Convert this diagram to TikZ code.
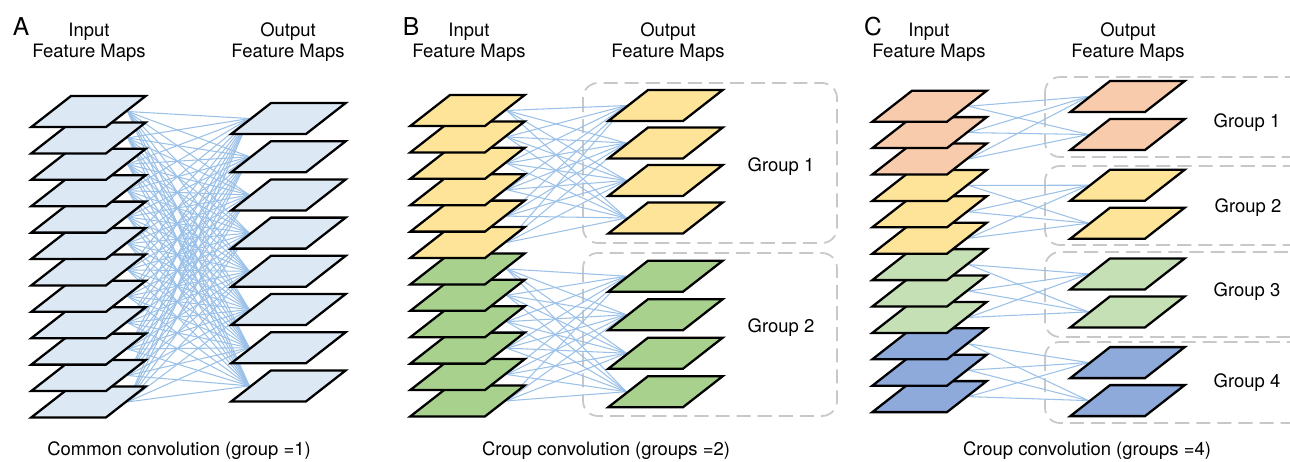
\documentclass[tikz,border=0pt]{standalone}
\usepackage{fontspec}
\setmainfont{TeX Gyre Heros}
\usetikzlibrary{shapes.geometric,backgrounds}

\definecolor{mapblue}{RGB}{221,232,245}
\definecolor{mapyellow}{RGB}{253,228,152}
\definecolor{mapgreen}{RGB}{169,209,142}
\definecolor{mapsalmon}{RGB}{248,203,173}
\definecolor{maplgreen}{RGB}{197,224,180}
\definecolor{mapdblue}{RGB}{142,170,219}
\definecolor{linkblue}{RGB}{155,193,232}
\definecolor{boxgray}{RGB}{200,200,200}

\tikzset{
  fmap/.style={trapezium, trapezium left angle=38, trapezium right angle=142,
    inner xsep=0.35cm, inner ysep=0.31cm,
    draw=black, line width=1.3pt},
  link/.style={draw=linkblue, line width=0.6pt},
  groupbox/.style={draw=boxgray, line width=1pt, dash pattern=on 8pt off 4pt,
    rounded corners=0.3cm},
  head/.style={align=center, font=\fontsize{10.5}{12}\selectfont},
  lettr/.style={font=\fontsize{14}{14}\selectfont},
  grp/.style={font=\fontsize{10.5}{12}\selectfont},
}

\begin{document}
\begin{tikzpicture}[x=0.02cm, y=-0.02cm]
\path[use as bounding box, clip] (0,0) rectangle (1290,461);

% A: common convolution
\node[lettr] (la) at (21,27) {A};
\node[head] (a-hin) at (89,42.5) {Input\\Feature Maps};
\node[head] (a-hout) at (288,42.5) {Output\\Feature Maps};
\foreach \i in {11,10,...,0}
  \node[fmap, fill=mapblue] (a-in-\i) at (88.5,{111.5+26.4*\i}) {};
\foreach \j in {0,...,7}
  \node[fmap, fill=mapblue] (a-out-\j) at (288.5,{118.5+38.2*\j}) {};
\node[head] (a-cap) at (179,451) {Common convolution (group =1)};

% B: two groups
\node[lettr] (lb) at (411,27) {B};
\node[head] (b-hin) at (469,42.5) {Input\\Feature Maps};
\node[head] (b-hout) at (668,42.5) {Output\\Feature Maps};
\foreach \i in {11,10,...,6}
  \node[fmap, fill=mapgreen] (b-in-\i) at (467.5,{110.5+26.4*\i}) {};
\foreach \i in {5,4,...,0}
  \node[fmap, fill=mapyellow] (b-in-\i) at (467.5,{110.5+26.4*\i}) {};
\foreach \j in {0,...,3}
  \node[fmap, fill=mapyellow] (b-out-\j) at (665.5,{105.5+37.5*\j}) {};
\foreach \j in {4,...,7}
  \node[fmap, fill=mapgreen] (b-out-\j) at (665.5,{276.2+38.5*(\j-4)}) {};
\node[grp] (b-g1) at (781,167) {Group 1};
\node[grp] (b-g2) at (781,328) {Group 2};
\node[head] (b-cap) at (606,451) {Croup convolution (groups =2)};

% C: four groups
\node[lettr] (lc) at (873,27) {C};
\node[head] (c-hin) at (929,42.5) {Input\\Feature Maps};
\node[head] (c-hout) at (1128,42.5) {Output\\Feature Maps};
\foreach \g/\c in {3/mapdblue,2/maplgreen,1/mapyellow,0/mapsalmon} {
  \foreach \k in {2,1,0} {
    \pgfmathtruncatemacro\i{3*\g+\k}
    \node[fmap, fill=\c] (c-in-\i) at (929.5,{106.2+26.4*\i}) {};
  }
  \foreach \k in {0,1} {
    \pgfmathtruncatemacro\j{2*\g+\k}
    \node[fmap, fill=\c] (c-out-\j) at (1127.5,{96.5+88.7*\g+38*\k}) {};
  }
}
\node[grp] (c-g1) at (1247,123) {Group 1};
\node[grp] (c-g2) at (1248,208) {Group 2};
\node[grp] (c-g3) at (1247,292) {Group 3};
\node[grp] (c-g4) at (1247,383) {Group 4};
\node[head] (c-cap) at (1087,451) {Croup convolution (groups =4)};

\begin{scope}[on background layer]
% dashed group frames
\draw[groupbox] (583,83) rectangle (837,243);
\draw[groupbox] (583,253) rectangle (837,416);
\draw[groupbox] (1045,77) rectangle (1320,157);
\draw[groupbox] (1045,166) rectangle (1320,245);
\draw[groupbox] (1045,252) rectangle (1320,337);
\draw[groupbox] (1045,342) rectangle (1320,423);
% connections
\foreach \i in {0,...,11}
  \foreach \j in {0,...,7}
    \draw[link] (a-in-\i.right side) -- (a-out-\j.left side);
\foreach \i in {0,...,5}
  \foreach \j in {0,...,3}
    \draw[link] (b-in-\i.right side) -- (b-out-\j.left side);
\foreach \i in {6,...,11}
  \foreach \j in {4,...,7}
    \draw[link] (b-in-\i.right side) -- (b-out-\j.left side);
\foreach \g in {0,...,3}
  \foreach \k in {0,1,2}
    \foreach \m in {0,1} {
      \pgfmathtruncatemacro\i{3*\g+\k}
      \pgfmathtruncatemacro\j{2*\g+\m}
      \draw[link] (c-in-\i.right side) -- (c-out-\j.left side);
    }
\end{scope}
\end{tikzpicture}
\end{document}
